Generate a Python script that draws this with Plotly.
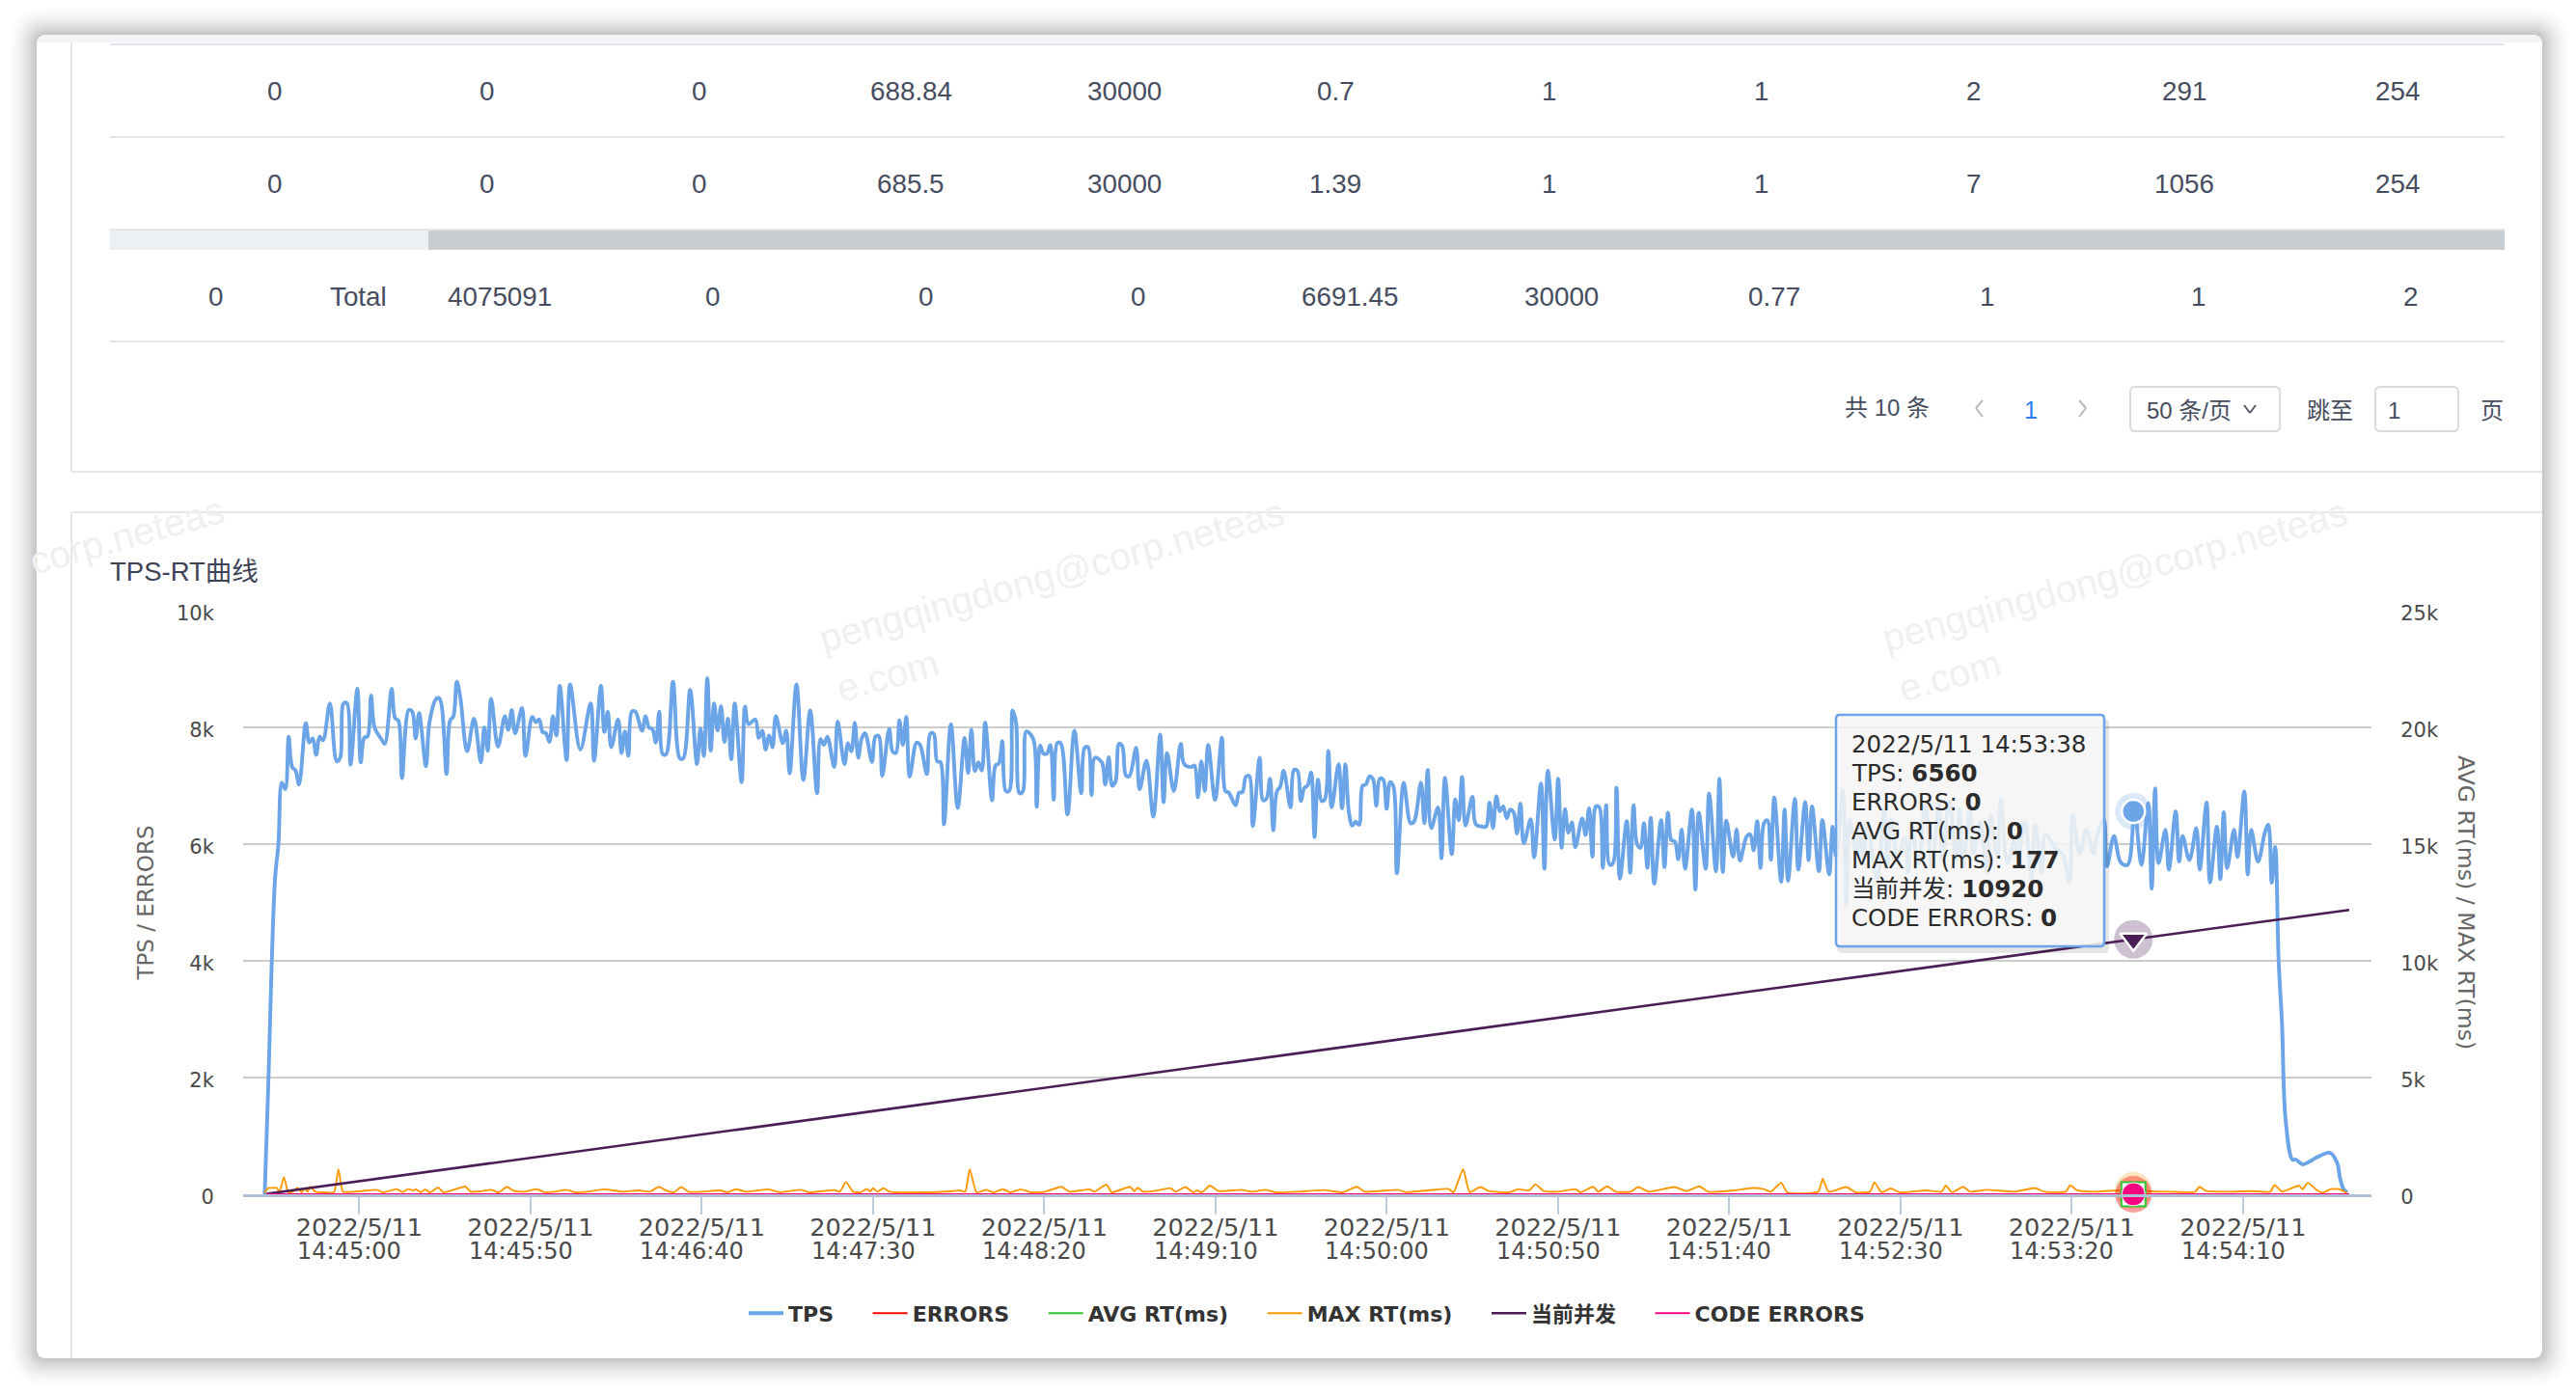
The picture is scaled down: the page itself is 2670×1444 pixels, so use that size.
from datetime import datetime, timedelta
import plotly.graph_objects as go

W, H = 2670, 1444
PL, PR, PT, PB = 252, 2458, 633, 1238

# ---------- table ----------
row1_values = ["0", "0", "0", "688.84", "30000", "0.7", "1", "1", "2", "291", "254"]
row2_values = ["0", "0", "0", "685.5", "30000", "1.39", "1", "1", "7", "1056", "254"]
total_values = ["0", "Total", "4075091", "0", "0", "0", "6691.45", "30000", "0.77", "1", "1", "2"]

# ---------- chart axis text ----------
tick_times = ["14:45:00", "14:45:50", "14:46:40", "14:47:30", "14:48:20", "14:49:10",
              "14:50:00", "14:50:50", "14:51:40", "14:52:30", "14:53:20", "14:54:10"]
left_ticks = [0, 2000, 4000, 6000, 8000, 10000]
left_tick_text = ["0", "2k", "4k", "6k", "8k", "10k"]
right_ticks = [0, 5000, 10000, 15000, 20000, 25000]
right_tick_text = ["0", "5k", "10k", "15k", "20k", "25k"]

# ---------- series: seconds since the run began, and the value read at that moment ----------
tps_seconds = [
    0, 1, 3, 4, 5, 6, 7, 8, 9, 10, 12, 13, 14, 15, 16, 17, 19, 21, 22, 23, 24, 25, 27, 28, 29, 30, 31, 32, 34, 35,
    37, 38, 39, 40, 42, 43, 44, 45, 47, 48, 50, 51, 53, 54, 55, 56, 57, 59, 61, 63, 64, 65, 66, 68, 70, 71, 72, 73, 75, 76,
    78, 79, 80, 81, 82, 83, 84, 85, 86, 88, 89, 92, 95, 96, 98, 99, 100, 101, 103, 104, 105, 106, 107, 108, 110, 111, 112, 113, 114, 115,
    116, 117, 119, 121, 122, 124, 126, 127, 128, 129, 130, 131, 132, 133, 134, 135, 136, 137, 139, 140, 141, 143, 144, 145,
    146, 147, 148, 149, 151, 152, 153, 155, 157, 159, 161, 162, 163, 164, 166, 167, 169, 170, 171, 172, 173, 174, 175, 177, 178, 179,
    180, 182, 183, 184, 185, 186, 187, 188, 190, 191, 193, 194, 195, 196, 197, 198, 200, 202, 204, 205, 206, 207, 208, 209, 210, 212, 213, 214, 215, 216,
    217, 218, 219, 220, 221, 222, 224, 225, 226, 227, 228, 229, 230, 231, 232, 234, 236, 238, 239, 240, 241, 242, 244, 245, 246, 247, 248, 249, 250, 251,
    252, 254, 255, 257, 259, 261, 262, 263, 265, 267, 268, 270, 271, 272, 273, 274, 275, 277, 279, 280, 281, 283, 284, 285, 286, 287, 288, 290, 291,
    292, 293, 294, 295, 296, 297, 299, 300, 301, 302, 303, 304, 305, 306, 307, 308, 309, 310, 311, 313, 314, 315, 316, 317, 318, 319, 320, 321, 322, 323,
    324, 325, 326, 327, 328, 329, 330, 332, 334, 335, 337, 338, 339, 340, 342, 343, 344, 346, 347, 348, 349, 350, 352, 353, 355, 356, 357, 358, 359, 360,
    361, 362, 363, 364, 365, 366, 367, 369, 370, 372, 373, 374, 376, 377, 378, 379, 380, 381, 382, 384, 385, 386, 387, 388, 389, 390, 391, 392, 393, 394,
    395, 397, 398, 399, 400, 401, 402, 403, 404, 405, 407, 408, 409, 410, 411, 412, 413, 414, 416, 417, 418, 420, 421, 423, 424, 425, 426, 428, 429, 430,
    432, 433, 434, 435, 436, 437, 438, 439, 440, 442, 443, 444, 446, 447, 449, 450, 451, 453, 454, 456, 457, 458, 460, 461, 462, 464, 465, 466, 467, 470,
    472, 473, 474, 476, 478, 479, 480, 482, 484, 486, 488, 489, 491, 493, 494, 495, 497, 498, 500, 502, 503, 505, 506, 508, 510, 511, 513, 515, 516, 518,
    519, 522, 524, 526, 527, 529, 531, 533, 534, 536, 537, 539, 541, 543, 545, 547, 549, 550, 551, 552, 554, 555, 557, 558, 559, 561, 563, 564, 566, 567,
    569, 570, 571, 572, 574, 575, 577, 578, 579, 581, 583, 584, 585, 586, 587, 588, 589, 591, 592, 594, 596, 598, 602, 604, 605, 606, 607]
tps_values = [
    0, 1800, 5400, 6000, 7050, 6940, 7840, 7320, 7260, 7020, 8070, 7740, 7810, 7530, 7840, 7780, 8410, 7420, 7480, 8410, 8410, 7360, 8660, 7400, 7820, 7850, 8545, 8000, 7800, 7720,
    8660, 8160, 8110, 7130, 8300, 8270, 7810, 8245, 7335, 8080, 8490, 8490, 7200, 8110, 8190, 8780, 8520, 7590, 8150, 7400, 8000, 7600, 8490, 7670, 8190, 7960, 8300, 7900, 8330, 7510,
    8180, 8090, 8135, 7920, 7900, 7750, 8190, 7860, 8710, 7440, 8735, 7620, 8410, 7430, 8710, 7920, 8270, 7660, 8135, 7560, 7930, 7510, 8270, 8270, 7945, 8190, 8000, 7970, 7740, 8270,
    7540, 7540, 8780, 7470, 7470, 8640, 7370, 7980, 7510, 8845, 7600, 8410, 7945, 8365, 7750, 8150, 7455, 8410, 7060, 8355, 8055, 8135, 7820, 7945,
    7620, 7860, 7660, 8190, 7730, 7945, 7210, 8735, 7100, 8290, 6870, 7800, 7700, 7840, 7320, 8100, 7370, 7730, 7590, 8080, 7480, 7810, 7900, 7410, 7840, 7850,
    7170, 7970, 7590, 7560, 8120, 7700, 8180, 7155, 7740, 7700, 7200, 7890, 7890, 7420, 7400, 6340, 8055, 6620, 7820, 7220, 7960, 7250, 7400, 7260, 8080, 6750, 7345, 7385, 7765, 6910,
    6910, 8290, 8080, 6870, 6910, 7930, 7800, 6640, 7690, 7550, 7550, 7700, 6760, 7730, 7730, 6510, 7945, 6870, 7650, 7660, 6840, 7480, 7400, 7020, 7490, 7000, 7075, 7720, 7670, 7180,
    7165, 7650, 6940, 7430, 6470, 7875, 6720, 7560, 6910, 7720, 7370, 7320, 7345, 6800, 7420, 6910, 7700, 6760, 7825, 6910, 6880, 6665, 6880, 6890, 7155, 7165, 6310, 7480, 6750,
    6780, 7120, 6236, 6900, 6985, 7257, 6630, 7270, 7257, 6740, 6957, 7010, 7230, 6122, 7105, 6740, 6770, 7596, 6630, 7367, 6613, 7367, 6547, 6318, 6384, 6330, 7000, 7023, 7160, 7120,
    6657, 7120, 7105, 6602, 7060, 6985, 5500, 7050, 6357, 6384, 7055, 6357, 7270, 6275, 6630, 5756, 7137, 5827, 6766, 6410, 7148, 6318, 6810, 6340, 6300, 6300, 6711, 6275, 6820, 6560,
    6646, 6440, 6590, 6548, 6182, 6695, 6013, 6427, 5772, 7040, 5576, 7257, 6083, 7120, 5936, 6602, 6193, 6373, 5947, 6438, 6155, 6613, 5783, 6646, 6630, 5592, 6668, 5647, 5674, 6968,
    5410, 6395, 5510, 6668, 6000, 5936, 6357, 5592, 6450, 5320, 6411, 5608, 6537, 6067, 6045, 5740, 6247, 5576, 6590, 5221, 6537, 5576, 6864, 5532, 7120, 5521, 6400, 5783, 6247, 5718,
    6138, 6165, 5892, 6395, 5592, 6357, 6410, 5727, 6800, 5355, 6590, 5372, 6775, 5563, 6720, 5727, 6644, 5536, 6410, 5481, 6300, 5780, 6928, 4963, 6410, 5780, 6273, 5727, 6382, 5400,
    6600, 5618, 6437, 5780, 6110, 5509, 6327, 5672, 6710, 5618, 6710, 5727, 6737, 5727, 6600, 5618, 6600, 5836, 6382, 5509, 6491, 5781, 6764, 5672, 6055, 5727, 6382, 5400, 6327, 5509,
    6164, 5918, 5836, 5345, 6491, 5836, 6246, 5836, 6110, 6437, 5618, 6136, 5683, 5645, 6560, 5645, 6700, 5236, 6955, 5672, 6246, 5563, 6557, 5700, 6136, 5727, 6273, 5563, 6710, 5345,
    6300, 5400, 6546, 5590, 6246, 5781, 6900, 5481, 6246, 5700, 6200, 6330, 5340, 5950, 4000, 2900, 1300, 595, 595, 512, 560, 628, 710, 545, 248, 83, 30]

max_rt_seconds = [
    0, 1, 2, 3.6, 4.3, 5.6, 6.9, 8.2, 9.5, 10.8, 11.6, 12.5, 13.3, 14.8, 17.6, 20.2, 21.5, 22.8, 25.8, 28.4, 32.7, 34.4, 38.5, 40.2, 41.7, 43.4, 43.9, 45.6, 46.7, 48.2,
    50.6, 52.1, 58.5, 60, 62.8, 66, 68.2, 70.6, 72.5, 75.7, 79.4, 81.5, 84.4, 87.8, 90.8, 94, 98.8, 100.5, 104.2, 109.1, 112.3, 114.9, 117, 119.2, 121.4, 123.5, 127.4, 132.8, 134.9, 137.3,
    140.3, 146.8, 150, 156.4, 158.6, 166.1, 167.6, 169.4, 171.5, 173.7, 175.4, 176.5, 177.3, 178.6, 180.3, 182.2, 192, 200.6, 202.7, 204.2, 205.5, 207.5, 210.2, 212.4, 215.2, 217.3, 220.4, 223.1, 227.5, 232.2,
    234.6, 240.4, 241.9, 245.3, 246.9, 252.2, 253.5, 254.4, 256.1, 259.7, 264, 265.5, 268.4, 270.6, 271.7, 273.1, 275.5, 278, 284.5, 288, 291.6, 294.9, 301.3, 308.8, 314.2, 318.3, 320.7, 330.4, 332.5, 339,
    345, 346.5, 349.3, 351.2, 354.3, 356.8, 362.6, 365.4, 368.5, 370.4, 372.8, 376.6, 382.2, 383.5, 387.2, 388.7, 391.3, 393.8, 398.2, 400.3, 403.5, 411, 414.3, 418.2, 420.7, 428.3, 433.7, 436.9, 439, 442,
    443.8, 452.8, 454.1, 455.8, 461, 463.8, 467.9, 469.2, 471.3, 473.9, 476.7, 484.2, 488.7, 490, 491.8, 495, 497.1, 501.9, 510, 516, 518.7, 525, 526.2, 528.4, 533.7, 540.2, 545, 548.8, 555.2, 562.7, 563.9, 566, 572.5, 578.9, 584.6, 585.8,
    588, 592.9, 594, 595.5, 598.3, 599.8, 602.2, 604.7, 606.9]
max_rt_values = [
    60, 270, 270, 270, 80, 740, 80, 110, 280, 80, 260, 110, 330, 110, 80, 80, 1070, 110, 110, 137, 190, 80, 220, 90, 220, 165, 220, 90, 210, 80,
    290, 80, 330, 110, 124, 190, 80, 320, 150, 110, 220, 90, 110, 190, 80, 110, 210, 190, 110, 165, 110, 320, 165, 80, 310, 110, 110, 165, 80, 220,
    110, 210, 90, 190, 80, 180, 110, 520, 110, 80, 230, 124, 260, 110, 260, 110, 80, 137, 165, 110, 1070, 80, 190, 80, 220, 80, 210, 90, 110, 320,
    110, 210, 110, 420, 80, 320, 137, 280, 110, 150, 260, 110, 310, 80, 165, 80, 370, 137, 190, 110, 190, 80, 110, 180, 80, 320, 110, 190, 90, 165,
    230, 80, 1080, 90, 310, 137, 80, 220, 165, 430, 137, 110, 210, 80, 320, 110, 340, 110, 110, 310, 110, 310, 137, 340, 110, 165, 270, 220, 110, 490,
    80, 110, 660, 110, 310, 80, 110, 510, 80, 250, 80, 165, 110, 370, 80, 320, 110, 190, 110, 270, 110, 120, 380, 165, 110, 165, 177, 137, 110, 110, 320, 137, 110, 137, 110, 400,
    110, 370, 220, 490, 165, 60, 220, 220, 40]

concurrency_times = ["14:44:33", "14:45:00", "14:45:50", "14:46:40", "14:47:30", "14:48:20", "14:49:10", "14:50:00",
                     "14:50:50", "14:51:40", "14:52:30", "14:53:20", "14:53:38", "14:54:10", "14:54:41"]
concurrency_values = [20, 560, 1560, 2560, 3560, 4560, 5560, 6560, 7560, 8560, 9560, 10560, 10920, 11560, 12180]

flat_times = ["14:44:33", "14:54:41"]
errors_values = [0, 0]
avg_rt_values = [1, 1]
code_errors_values = [0, 0]

tooltip_time = "14:53:38"
tooltip_lines = ["2022/5/11 14:53:38", "TPS: <b>6560</b>", "ERRORS: <b>0</b>", "AVG RT(ms): <b>0</b>",
                 "MAX RT(ms): <b>177</b>", "当前并发: <b>10920</b>", "CODE ERRORS: <b>0</b>"]
hover_tps, hover_max_rt, hover_concurrency = 6560, 177, 10920

DAY = "2022-05-11 "
RUN_START = datetime(2022, 5, 11, 14, 44, 32, 400000)
LEGEND_GAP = "\u00a0\u00a0\u00a0\u00a0"


def stamp(seconds):
    return (RUN_START + timedelta(seconds=seconds * 1.0017)).strftime("%Y-%m-%d %H:%M:%S.%f")


def px(x):
    return (x - PL) / (PR - PL)


def py(y):
    return (PB - y) / (PB - PT)


BLUE, RED, GREEN, ORANGE, PURPLE, PINK = "#6ba5e7", "#ff0000", "#2fc42f", "#ff9800", "#4b1d55", "#f5007f"
TEXT, AXIS_FONT, CJK = "#474d60", "DejaVu Sans, Noto Sans CJK SC", "Liberation Sans, Noto Sans CJK SC"

fig = go.Figure()


def line_trace(name, xs, ys, color, width, axis, smooth=0.0):
    fig.add_trace(go.Scatter(x=xs, y=ys, name=name + LEGEND_GAP, mode="lines", yaxis=axis, cliponaxis=False,
                             line=dict(color=color, width=width, shape="spline" if smooth else "linear",
                                       smoothing=smooth or 1.0)))


flat_x = [DAY + t for t in flat_times]
line_trace("TPS", [stamp(t) for t in tps_seconds], tps_values, BLUE, 3.9, "y", 1.0)
line_trace("ERRORS", flat_x, errors_values, RED, 2, "y2")
line_trace("AVG RT(ms)", flat_x, avg_rt_values, GREEN, 2, "y2")
line_trace("MAX RT(ms)", [stamp(t) for t in max_rt_seconds], max_rt_values, ORANGE, 1.9, "y2", 0.5)
line_trace("当前并发", [DAY + t for t in concurrency_times], concurrency_values, PURPLE, 2.6, "y2")
line_trace("CODE ERRORS", flat_x, code_errors_values, PINK, 2, "y2")


def hover_marker(y, axis, symbol, size, color, opacity=1.0, border=None, bw=0):
    fig.add_trace(go.Scatter(x=[DAY + tooltip_time], y=[y], yaxis=axis, mode="markers", showlegend=False,
                             cliponaxis=False,
                             marker=dict(symbol=symbol, size=size, color=color, opacity=opacity,
                                         line=dict(color=border or color, width=bw))))


hover_marker(hover_tps, "y", "circle", 38, BLUE, 0.25)
hover_marker(hover_tps, "y", "circle", 24, BLUE, 1, "white", 2.5)
hover_marker(hover_concurrency, "y2", "circle", 40, PURPLE, 0.28)
hover_marker(hover_concurrency, "y2", "triangle-down", 24, PURPLE, 1, "white", 2.5)
hover_marker(hover_max_rt, "y2", "circle", 38, ORANGE, 0.25)
hover_marker(0, "y2", "circle", 38, RED, 0.38)
hover_marker(1, "y2", "square", 27, GREEN, 1, "white", 0)
hover_marker(1, "y2", "square", 23, "white", 1, "white", 0)
hover_marker(0, "y2", "circle", 24, PINK, 1, "white", 1)

shapes, notes = [], []


def rounded(x0, y0, x1, y1, r):
    a, b, c, d = px(x0), py(y0), px(x1), py(y1)
    rx, ry = r / (PR - PL), r / (PB - PT)
    return (f"M {a+rx} {b} L {c-rx} {b} Q {c} {b} {c} {b-ry} L {c} {d+ry} Q {c} {d} {c-rx} {d} "
            f"L {a+rx} {d} Q {a} {d} {a} {d+ry} L {a} {b-ry} Q {a} {b} {a+rx} {b} Z")


def add_path(path, fill=None, line=None, lw=0, opacity=1.0, layer="below"):
    shapes.append(dict(type="path", path=path, xref="paper", yref="paper", fillcolor=fill or "rgba(0,0,0,0)",
                       line=dict(color=line or "rgba(0,0,0,0)", width=lw), opacity=opacity, layer=layer))


def add_rect(x0, y0, x1, y1, fill, layer="below"):
    shapes.append(dict(type="rect", xref="paper", yref="paper", x0=px(x0), x1=px(x1), y0=py(y0), y1=py(y1),
                       fillcolor=fill, line=dict(width=0), layer=layer))


def add_line(x0, y0, x1, y1, color, width=2, layer="below"):
    shapes.append(dict(type="line", xref="paper", yref="paper", x0=px(x0), x1=px(x1), y0=py(y0), y1=py(y1),
                       line=dict(color=color, width=width), layer=layer))


def add_text(x, y, text, size=27.8, color=TEXT, anchor="center", font=CJK, angle=0):
    notes.append(dict(x=px(x), y=py(y), xref="paper", yref="paper", text=text, showarrow=False, xanchor=anchor,
                      yanchor="middle", textangle=angle, align="left", font=dict(family=font, size=size, color=color)))


# window shadow and body
SHADOW = 34
for i in range(SHADOW, 0, -1):
    add_path(rounded(38 - i, 36 - i, 2635 + i, 1408 + i, 10 + i), fill="#000000",
             opacity=0.46 * (1 - i / SHADOW) / SHADOW)
add_path(rounded(38, 36, 2635, 1408, 10), fill="white")
add_path(rounded(38, 36, 2635, 60, 10), fill="#f3f4f8")
add_rect(38, 44, 2635, 70, "white")

# cards
CARD = "#e4e6e9"
add_line(74, 44, 74, 489, CARD)
add_line(74, 489, 2635, 489, CARD)
add_line(74, 531, 2635, 531, CARD)
add_line(74, 531, 74, 1408, CARD)

# table
for y in (46, 142, 238, 354):
    add_line(114, y, 2596, y, "#e3e6e9")
add_rect(114, 239, 444, 259, "#edf0f3")
add_rect(444, 239, 2596, 259, "#c8cdd1")
row_centers = [284, 504, 724, 944, 1165, 1384, 1605, 1825, 2045, 2264, 2485]
total_centers = [223, 371, 518, 738, 959, 1179, 1399, 1618, 1839, 2059, 2278, 2498]
for cx, v in zip(row_centers, row1_values):
    add_text(cx, 94.5, v)
for cx, v in zip(row_centers, row2_values):
    add_text(cx, 190.5, v)
for cx, v in zip(total_centers, total_values):
    add_text(cx, 307.5, v)

# pagination
add_text(1956, 422, "共 10 条", 24)
add_text(2105, 425, "1", 25, "#2d7df0")
add_line(2055, 415, 2048, 423, "#b5b8bd"); add_line(2048, 423, 2055, 432, "#b5b8bd")
add_line(2155, 415, 2162, 423, "#b5b8bd"); add_line(2162, 423, 2155, 432, "#b5b8bd")
add_path(rounded(2208, 401, 2363, 447, 5), line="#d9dbde", lw=2)
add_path(rounded(2462, 401, 2548, 447, 5), line="#d9dbde", lw=2)
add_text(2269, 425, "50 条/页", 24)
add_line(2326, 420, 2332, 428, "#555a66"); add_line(2332, 428, 2338, 420, "#555a66")
add_text(2415, 425, "跳至", 24)
add_text(2481, 425, "1", 24)
add_text(2583, 425, "页", 24)

# chart title and watermarks
add_text(112, 592.5, "TPS-RT曲线", 27.5, "#3c4356", "left")
MARK = "#f0f0f0"
add_text(1090, 596, "pengqingdong@corp.neteas", 39.6, MARK, angle=-15.5)
add_text(2192, 596, "pengqingdong@corp.neteas", 39.6, MARK, angle=-15.5)
add_text(920, 700, "e.com", 39.6, MARK, angle=-15.5)
add_text(2021, 700, "e.com", 39.6, MARK, angle=-15.5)
add_text(131, 555, "corp.neteas", 39.6, MARK, angle=-15.5)

# second line of each time label, left-aligned with the date above it
for t in tick_times:
    notes.append(dict(x=DAY + t, xref="x", xshift=-66, y=py(1297), yref="paper", text=t, showarrow=False,
                      xanchor="left", yanchor="middle", font=dict(family=AXIS_FONT, size=24, color="#4a4a4a")))

# right axis title
add_text(2556, 935, "AVG RT(ms) / MAX RT(ms)", 23.6, "#666666", font=AXIS_FONT, angle=90)

# tooltip
add_path(rounded(1904, 745, 2186, 988, 5), fill="#000000", opacity=0.10, layer="above")
add_path(rounded(1903, 741, 2181, 981, 4), fill="rgba(248,248,248,0.86)", line=BLUE, lw=2.5, layer="above")
for i, txt in enumerate(tooltip_lines):
    add_text(1917, 771 + i * 30, txt, 24.5, "#2b2b2b", "left", AXIS_FONT)

axis_tick = dict(family=AXIS_FONT, size=21, color="#4a4a4a")
title_font = dict(family=AXIS_FONT, size=23, color="#666666")

fig.update_layout(
    width=W, height=H, autosize=False, paper_bgcolor="white", plot_bgcolor="rgba(0,0,0,0)",
    margin=dict(l=PL, r=W - PR, t=PT, b=H - PB, pad=0),
    shapes=shapes, annotations=notes,
    hovermode=False,
    legend=dict(orientation="h", x=0.5068, y=-0.204, xanchor="center", yanchor="middle",
                font=dict(family=AXIS_FONT, size=22, color="#333333", weight=700),
                itemwidth=36, bgcolor="rgba(0,0,0,0)", traceorder="normal"),
    xaxis=dict(type="date", range=[DAY + "14:44:26.1", DAY + "14:54:47.5"],
               tickvals=[DAY + t for t in tick_times],
               ticktext=["2022/5/11" for t in tick_times],
               tickangle=0, ticks="outside", ticklen=18, tickwidth=2, tickcolor="#bccbdd",
               ticklabelstandoff=-9,
               showline=True, linecolor="#b0bfd6", linewidth=3, showgrid=False, zeroline=False,
               tickfont=dict(family=AXIS_FONT, size=25.6, color="#4a4a4a")),
    yaxis=dict(range=[0, 10000], tickvals=left_ticks, ticktext=left_tick_text, ticks="outside", ticklen=25,
               tickcolor="rgba(0,0,0,0)", showgrid=True, gridcolor="#cccccc", gridwidth=2, zeroline=False,
               showline=False, tickfont=axis_tick, ticklabelshift=3,
               title=dict(text="TPS / ERRORS", font=title_font, standoff=16)),
    yaxis2=dict(range=[0, 25000], overlaying="y", side="right", tickvals=right_ticks, ticktext=right_tick_text,
                ticks="outside", ticklen=25, tickcolor="rgba(0,0,0,0)", showgrid=False, zeroline=False,
                showline=False, tickfont=axis_tick, ticklabelshift=3),
)

assert len(tps_seconds) == len(tps_values), (len(tps_seconds), len(tps_values))
assert len(max_rt_seconds) == len(max_rt_values), (len(max_rt_seconds), len(max_rt_values))

fig.write_html("out.html", config={"displayModeBar": False},
               post_script="document.body.style.margin='0';document.body.style.overflow='hidden';")
